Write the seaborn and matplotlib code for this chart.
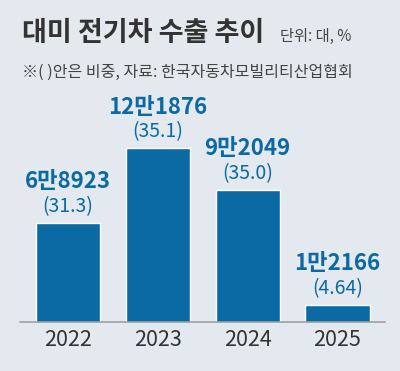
import pandas as pd
import matplotlib.pyplot as plt
import seaborn as sns

# 대미 전기차 수출 추이 (단위: 대, %)
years = ["2022", "2023", "2024", "2025"]
units = [68923, 120876, 92049, 12166]
unit_labels = ["6만8923", "12만1876", "9만2049", "1만2166"]
shares = ["31.3", "35.1", "35.0", "4.64"]

df = pd.DataFrame({"year": years, "units": units})

bg = "#e3e9ee"
blue = "#0b69a3"
dark = "#333333"

sns.set_theme(style="white")
plt.rcParams["font.family"] = ["Noto Sans CJK KR", "DejaVu Sans"]

fig = plt.figure(figsize=(4, 3.71), dpi=100, facecolor=bg)
ax = fig.add_axes([0.05, 0.132, 0.9125, 0.543])
ax.set_facecolor(bg)

sns.barplot(data=df, x="year", y="units", color=blue, width=0.715,
            saturation=1, ax=ax)
ax.set_xlim(-0.535, 3.53)
ax.set_ylim(0, 140000)

for i, (v, lab, s) in enumerate(zip(units, unit_labels, shares)):
    ax.annotate(lab, (i, v), xytext=(0, 29.5), textcoords="offset points",
                ha="center", va="center", fontsize=16, fontweight="bold",
                color=blue)
    ax.annotate(f"({s})", (i, v), xytext=(0, 11.5), textcoords="offset points",
                ha="center", va="center", fontsize=14, color=blue)

for sp in ["top", "left", "right"]:
    ax.spines[sp].set_visible(False)
ax.spines["bottom"].set_color("#999999")
ax.spines["bottom"].set_linewidth(1.1)
ax.set_yticks([])
ax.set_xlabel("")
ax.set_ylabel("")
ax.tick_params(axis="x", length=0, pad=5, labelsize=15.5, labelcolor=dark)

fig.text(0.055, 0.91, "대미 전기차 수출 추이", fontsize=19.5, fontweight="bold",
         color=dark, va="center")
fig.text(0.70, 0.902, "단위: 대, %", fontsize=11, color="#444444", va="center")
fig.text(0.055, 0.805, "※( )안은 비중, 자료: 한국자동차모빌리티산업협회",
         fontsize=11.5, color="#444444", va="center")

fig.savefig("out.png", dpi=100, facecolor=bg)
